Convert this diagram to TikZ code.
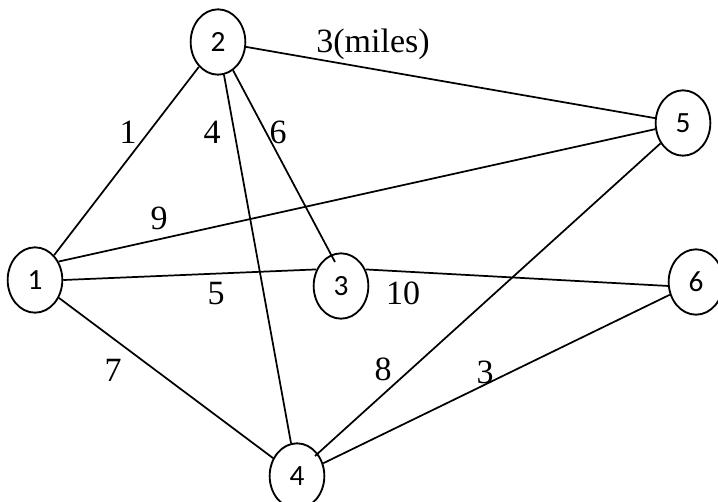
\documentclass[tikz,border=0pt]{standalone}
\usepackage{fontspec}
\setmainfont{Liberation Serif}
\newfontfamily\vertexfont{Carlito}
\usetikzlibrary{shapes.geometric}

\begin{document}
\begin{tikzpicture}[
  x=0.75pt, y=-0.75pt,
  vertex/.style={ellipse,draw,line width=1.4pt,inner sep=0pt,
    minimum width=41pt,minimum height=49pt,
    font=\vertexfont\fontsize{22}{26}\selectfont},
  weight/.style={inner sep=0pt,font=\fontsize{25.5}{30}\selectfont},
  edge/.style={line width=1.3pt},
]
\useasboundingbox (0,0) rectangle (718,501);

% vertices
\node[vertex] (v2) at (218,42) {2};
\node[vertex] (v5) at (683,123) {5};
\node[vertex] (v1) at (35,280) {1};
\node[vertex] (v3) at (341,286) {3};
\node[vertex] (v6) at (696,282) {6};
\node[vertex] (v4) at (297,476) {4};

% free ends inside circles
\coordinate (in3) at (335,262);
\coordinate (in4) at (315,456);

% edges
\draw[edge] (v2) -- (v5);
\draw[edge] (v2) -- (v1);
\draw[edge] (v2) -- (v4);
\draw[edge] (v2) -- (in3);
\draw[edge] (v1.38) -- (v5);
\draw[edge] (v1.east) -- (v3.146);
\draw[edge] (v3.34) -- (v6.188);
\draw[edge] (v1) -- (v4);
\draw[edge] (v5) -- (in4);
\draw[edge] (v4) -- (v6);

% weights
\node[weight] (w25) at (373,44) {3(miles)};
\node[weight] (w21) at (128,132) {1};
\node[weight] (w24) at (212,132) {4};
\node[weight] (w23) at (278,132) {6};
\node[weight] (w15) at (159,218) {9};
\node[weight] (w13) at (216,294) {5};
\node[weight] (w36) at (403,293) {10};
\node[weight] (w14) at (113,370) {7};
\node[weight] (w54) at (383,369) {8};
\node[weight] (w46) at (485,372) {3};
\end{tikzpicture}
\end{document}
